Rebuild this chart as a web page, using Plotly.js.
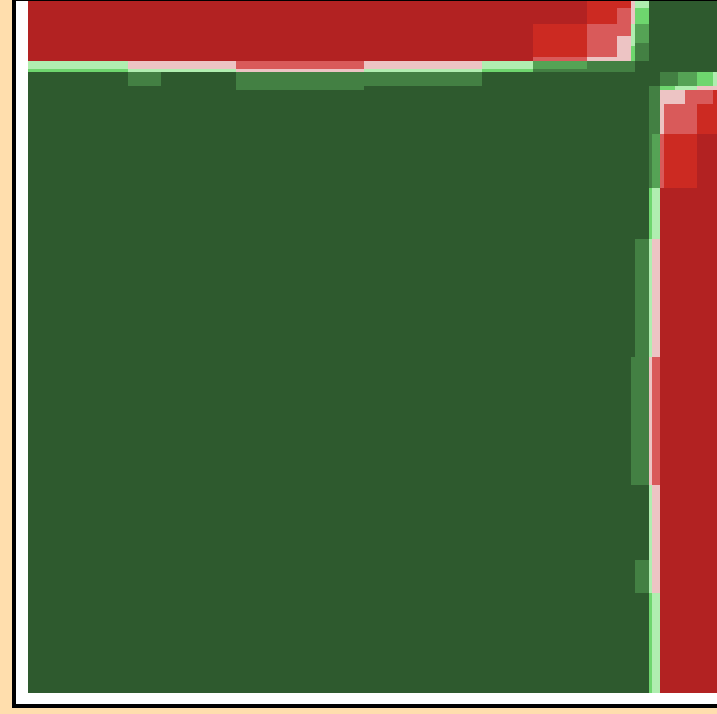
<!DOCTYPE html>
<html>
<head>
<meta charset="utf-8">
<script src="https://cdn.plot.ly/plotly-3.0.1.min.js"></script>
<style>
  html, body { margin:0; padding:0; background:#FFDEAD; overflow:hidden; width:717px; height:714px; }
  #frame { position:absolute; left:12px; top:-3px; width:760px; height:703px;
           border:4px solid #000; border-right:none; background:#fff; }
  #chart { width:740px; height:703px; }
</style>
</head>
<body>
<div id="frame"><div id="chart"></div></div>
<script>
// Group boundaries along the (symmetric) variable ordering, in plot units
const edges = [0, 100, 133, 208, 336, 455, 506, 560, 590, 604, 608, 622, 625, 633, 637, 648, 651, 658, 670, 686, 693];

// Discrete correlation level per block (0 = strongly negative ... 8 = strongly positive)
const levels = [
  [8,8,8,8,8,8,8,8,8,8,8,5,4,0,0,0,0,0,0,0],
  [8,8,8,8,8,8,8,8,8,8,7,4,3,0,0,0,0,0,0,0],
  [8,8,8,8,8,8,8,8,8,8,8,4,3,0,0,0,0,0,0,0],
  [8,8,8,8,8,8,8,8,8,7,7,3,2,0,0,0,0,0,0,0],
  [8,8,8,8,8,8,8,8,8,8,7,4,3,0,0,0,0,0,0,0],
  [8,8,8,8,8,8,8,8,8,8,8,5,4,0,0,0,0,0,0,0],
  [8,8,8,8,8,8,8,8,8,8,8,7,6,2,1,1,1,1,0,0],
  [8,8,8,8,8,8,8,8,8,8,8,7,7,3,2,2,2,2,1,1],
  [8,8,8,8,8,8,8,8,8,8,8,7,7,3,3,3,3,2,2,1],
  [8,8,8,7,8,8,8,8,8,8,8,7,7,5,5,4,4,4,3,3],
  [8,7,8,7,7,8,8,8,8,8,8,8,8,7,7,7,6,6,5,4],
  [5,4,4,3,4,5,7,7,7,7,8,8,8,8,8,8,8,8,8,8],
  [4,3,3,2,3,4,6,7,7,7,8,8,8,8,8,8,8,8,8,8],
  [0,0,0,0,0,0,2,3,3,5,7,8,8,8,8,8,8,8,8,8],
  [0,0,0,0,0,0,1,2,3,5,7,8,8,8,8,8,8,8,8,8],
  [0,0,0,0,0,0,1,2,3,4,7,8,8,8,8,8,8,8,8,8],
  [0,0,0,0,0,0,1,2,3,4,6,8,8,8,8,8,8,8,8,8],
  [0,0,0,0,0,0,1,2,2,4,6,8,8,8,8,8,8,8,8,8],
  [0,0,0,0,0,0,0,1,2,3,5,8,8,8,8,8,8,8,8,8],
  [0,0,0,0,0,0,0,1,1,3,4,8,8,8,8,8,8,8,8,8]
];

// Level colours, from most negative to most positive
const levelColors = ['#B22222','#CC2A22','#D95A5A','#EDC4C4','#B0EEB0','#6ED66E','#55A355','#438043','#2E5A2E'];

const n = levelColors.length;
const colorscale = [];
levelColors.forEach((c, k) => { colorscale.push([k / n, c]); colorscale.push([(k + 1) / n, c]); });

const trace = {
  type: 'heatmap',
  x: edges,
  y: edges,
  z: levels,
  zmin: -0.5,
  zmax: n - 0.5,
  colorscale: colorscale,
  showscale: false,
  hoverinfo: 'skip'
};

const axis = { range: [edges[0], edges[edges.length - 1]], autorange: false, showgrid: false,
               zeroline: false, showticklabels: false, ticks: '', showline: false, fixedrange: true };

const layout = {
  width: 740, height: 703,
  margin: { l: 12, r: 36, t: 0, b: 11, pad: 0 },
  paper_bgcolor: '#ffffff',
  plot_bgcolor: '#ffffff',
  xaxis: Object.assign({}, axis),
  yaxis: Object.assign({}, axis),
  showlegend: false
};

Plotly.newPlot('chart', [trace], layout, { displayModeBar: false, staticPlot: true });
</script>
</body>
</html>
